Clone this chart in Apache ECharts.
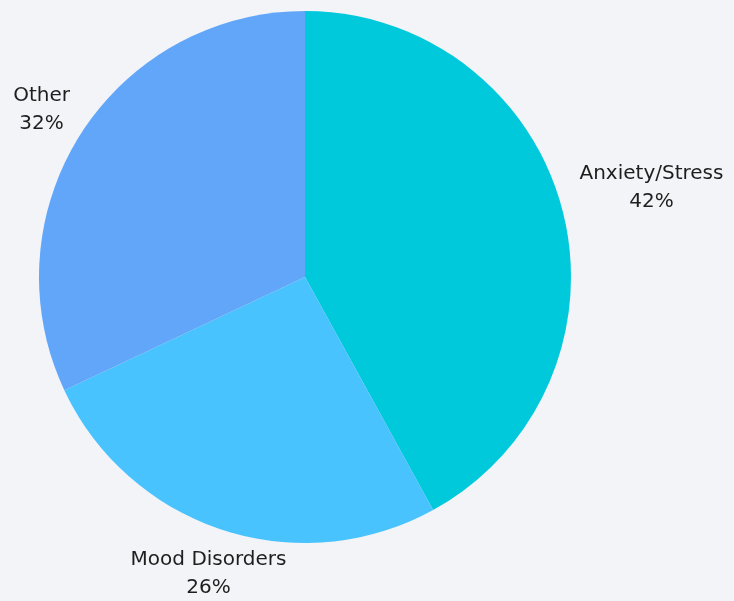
<!DOCTYPE html>
<html>
<head>
<meta charset="utf-8">
<script src="https://cdn.jsdelivr.net/npm/echarts@6/dist/echarts.min.js"></script>
<style>
html,body{margin:0;padding:0;background:#f3f4f8;}
#chart{width:734px;height:601px;}
</style>
</head>
<body>
<div id="chart"></div>
<script>
var categories = ['Anxiety/Stress', 'Mood Disorders', 'Other'];
var values = [42, 26, 32];
var colors = ['#00c9dc', '#49c3fe', '#62a6fa'];

var chart = echarts.init(document.getElementById('chart'), null, {renderer: 'canvas'});

function placeLabel(params) {
  var layout = null;
  try {
    layout = chart.getModel().getSeriesByIndex(params.seriesIndex).getData().getItemLayout(params.dataIndex);
  } catch (e) { layout = null; }
  if (!layout) return {};
  var mid = (layout.startAngle + layout.endAngle) / 2;
  var c = Math.cos(mid), s = Math.sin(mid);
  var hw = params.labelRect.width / 2;
  var R = layout.r + 22 + Math.abs(c) * hw;
  return {
    x: layout.cx + R * c,
    y: layout.cy + R * s,
    align: 'center',
    verticalAlign: 'middle'
  };
}

chart.setOption({
  backgroundColor: '#f3f4f8',
  animation: false,
  series: [{
    type: 'pie',
    center: [305, 277],
    radius: 266,
    startAngle: 90,
    clockwise: true,
    data: categories.map(function (n, i) {
      return {name: n, value: values[i], itemStyle: {color: colors[i]}};
    }),
    label: {
      show: true,
      position: 'outside',
      formatter: '{b}\n{d}%',
      fontFamily: 'DejaVu Sans',
      fontSize: 20,
      lineHeight: 28,
      color: '#1e1e1e',
      overflow: 'none'
    },
    labelLine: {show: false},
    labelLayout: placeLabel,
    emphasis: {disabled: true}
  }]
});
</script>
</body>
</html>
